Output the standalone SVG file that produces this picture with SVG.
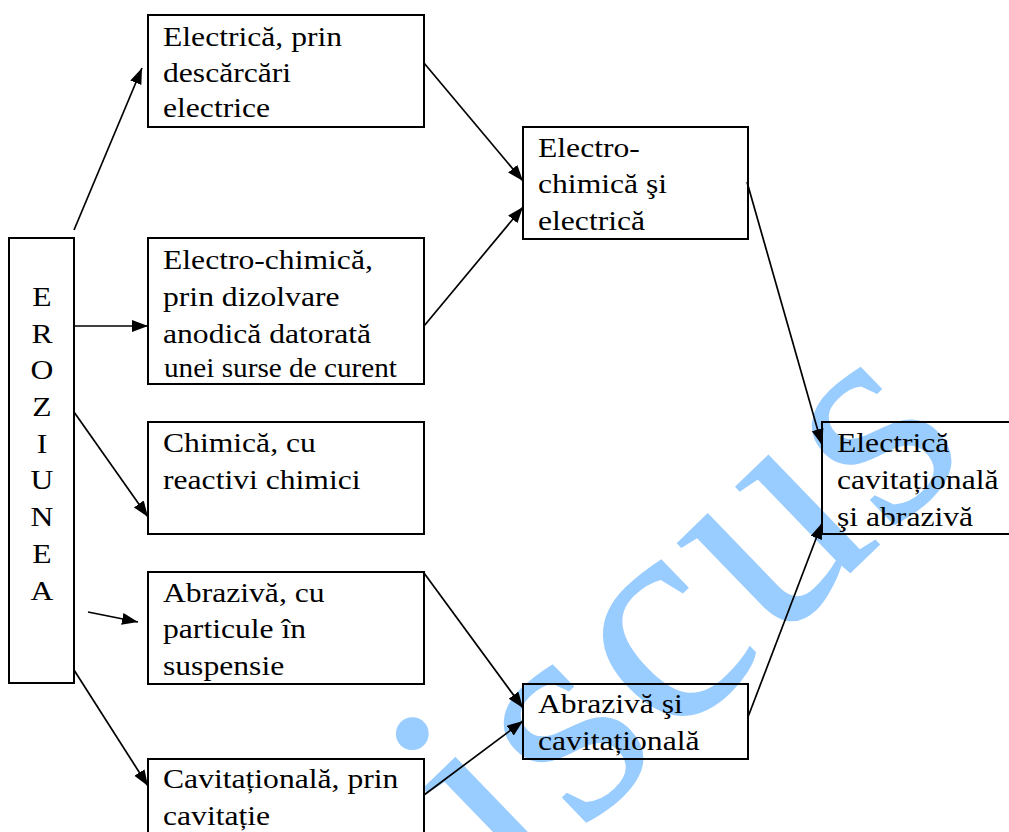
<svg xmlns="http://www.w3.org/2000/svg" width="1009" height="832" viewBox="0 0 1009 832">
<style>
.box{fill:none;stroke:#000;stroke-width:2}
.t{font-family:"Liberation Serif","Times New Roman",serif;font-size:28px;fill:#000}
.c{stroke:#000;stroke-width:1.7;fill:none;marker-end:url(#ah)}
.wm{font-family:"Liberation Serif","Times New Roman",serif;font-size:310px;letter-spacing:5px;fill:#99CCFF}
</style>
<defs>
<marker id="ah" markerUnits="userSpaceOnUse" markerWidth="18" markerHeight="14" refX="16" refY="6" orient="auto">
<path d="M0,0 L16,6 L0,12 Z" fill="#000"/>
</marker>
</defs>
<rect width="1009" height="832" fill="#fff"/>
<g id="watermark">
<text class="wm" transform="translate(514,898) rotate(-44)">iscus</text>
</g>
<g id="eroziunea">
<rect class="box" x="9" y="238" width="65" height="445"/>
<text class="t" text-anchor="middle" transform="translate(42,306) scale(1.13,1)"><tspan x="0" y="0">E</tspan><tspan x="0" y="36.7">R</tspan><tspan x="0" y="73.4">O</tspan><tspan x="0" y="110.1">Z</tspan><tspan x="0" y="146.8">I</tspan><tspan x="0" y="183.5">U</tspan><tspan x="0" y="220.2">N</tspan><tspan x="0" y="256.9">E</tspan><tspan x="0" y="293.6">A</tspan></text>
</g>
<g id="n1">
<rect class="box" x="148" y="15" width="276" height="112"/>
<text class="t" transform="translate(163,46) scale(1.13,1)"><tspan x="0" y="0">Electrică, prin</tspan><tspan x="0" y="36">descărcări</tspan><tspan x="0" y="71">electrice</tspan></text>
</g>
<g id="n2">
<rect class="box" x="148" y="238" width="276" height="146"/>
<text class="t" transform="translate(163,269) scale(1.13,1)"><tspan x="0" y="0">Electro-chimică,</tspan><tspan x="0" y="37">prin dizolvare</tspan><tspan x="0" y="74">anodică datorată</tspan></text>
<text class="t" x="164" y="377" textLength="233" lengthAdjust="spacingAndGlyphs">unei surse de curent</text>
</g>
<g id="n3">
<rect class="box" x="148" y="422" width="276" height="112"/>
<text class="t" transform="translate(163,452) scale(1.13,1)"><tspan x="0" y="0">Chimică, cu</tspan><tspan x="0" y="37">reactivi chimici</tspan></text>
</g>
<g id="n4">
<rect class="box" x="148" y="572" width="276" height="112"/>
<text class="t" transform="translate(163,602) scale(1.13,1)"><tspan x="0" y="0">Abrazivă, cu</tspan><tspan x="0" y="36">particule în</tspan><tspan x="0" y="73">suspensie</tspan></text>
</g>
<g id="n5">
<rect class="box" x="148" y="759" width="276" height="100"/>
<text class="t" transform="translate(163,788) scale(1.13,1)"><tspan x="0" y="0">Cavitațională, prin</tspan><tspan x="0" y="37">cavitație</tspan></text>
</g>
<g id="n6">
<rect class="box" x="523" y="127" width="225" height="112"/>
<text class="t" transform="translate(538,157) scale(1.13,1)"><tspan x="0" y="0">Electro-</tspan><tspan x="0" y="36">chimică şi</tspan><tspan x="0" y="73">electrică</tspan></text>
</g>
<g id="n7">
<rect class="box" x="822" y="422" width="220" height="112"/>
<text class="t" transform="translate(837,452) scale(1.13,1)"><tspan x="0" y="0">Electrică</tspan><tspan x="0" y="37">cavitațională</tspan><tspan x="0" y="74">şi abrazivă</tspan></text>
</g>
<g id="n8">
<rect class="box" x="523" y="684" width="225" height="75"/>
<text class="t" transform="translate(538,713) scale(1.13,1)"><tspan x="0" y="0">Abrazivă şi</tspan><tspan x="0" y="37">cavitațională</tspan></text>
</g>
<g id="connectors">
<line class="c" x1="74" y1="230" x2="142" y2="68"/>
<line class="c" x1="74" y1="326" x2="148" y2="326"/>
<line class="c" x1="74" y1="412" x2="148" y2="517"/>
<line class="c" x1="88" y1="612" x2="138" y2="622"/>
<line class="c" x1="74" y1="670" x2="148" y2="786"/>
<line class="c" x1="424" y1="63" x2="523" y2="181"/>
<line class="c" x1="424" y1="326" x2="523" y2="207"/>
<line class="c" x1="747" y1="182" x2="822" y2="445"/>
<line class="c" x1="424" y1="573" x2="523" y2="708"/>
<line class="c" x1="424" y1="795" x2="523" y2="721"/>
<line class="c" x1="748" y1="717" x2="822" y2="523"/>
</g>
</svg>
